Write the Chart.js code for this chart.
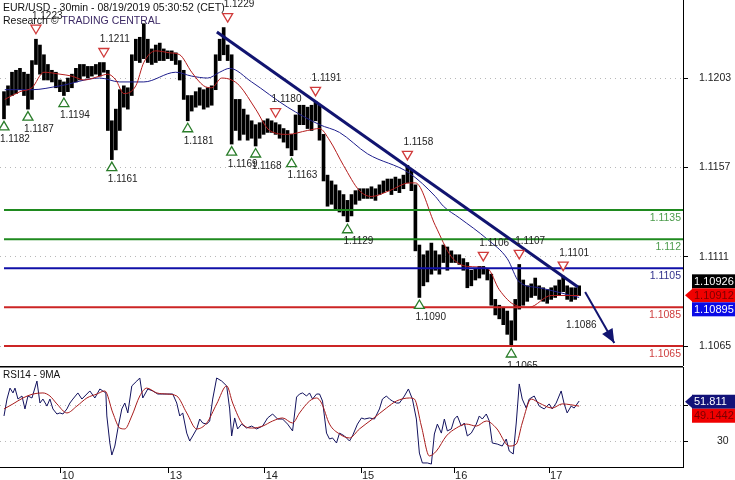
<!DOCTYPE html>
<html>
<head>
<meta charset="utf-8">
<script src="https://cdn.jsdelivr.net/npm/chart.js@4"></script>
<style>
    html, body { margin: 0; padding: 0; background: #fff; }
    #wrap { position: relative; width: 735px; height: 480px; overflow: hidden; }
    #priceChart { position: absolute; left: 0; top: 0; }
    #rsiChart { position: absolute; left: 0; top: 366px; }
</style>
</head>
<body>
<div id="wrap">
    <canvas id="priceChart" width="735" height="366"></canvas>
    <canvas id="rsiChart" width="735" height="114"></canvas>
</div>
<script type="text/javascript">
    // hourly bars, bar k sits at x index k+1 (axis runs 0..171)
    var highs = [1.1196, 1.1199, 1.1206, 1.1207, 1.1208, 1.1206, 1.1205, 1.1212, 1.1223, 1.1220,
        1.1215, 1.1210, 1.1207, 1.1206, 1.1202, 1.1201, 1.1203, 1.1205, 1.1208, 1.1210,
        1.1210, 1.1209, 1.1209, 1.1210, 1.1211, 1.1211, 1.1207, 1.1181, 1.1187, 1.1197,
        1.1199, 1.1198, 1.1215, 1.1223, 1.1224, 1.1231, 1.1223, 1.1218, 1.1220, 1.1221,
        1.1218, 1.1217, 1.1217, 1.1216, 1.1212, 1.1207, 1.1194, 1.1194, 1.1196, 1.1198,
        1.1197, 1.1198, 1.1199, 1.1215, 1.1223, 1.1229, 1.1220, 1.1215, 1.1192, 1.1192,
        1.1187, 1.1184, 1.1181, 1.1179, 1.1180, 1.1181, 1.1182, 1.1181, 1.1180, 1.1179,
        1.1177, 1.1176, 1.1174, 1.1184, 1.1189, 1.1189, 1.1188, 1.1189, 1.1191, 1.1189,
        1.1174, 1.1153, 1.1150, 1.1148, 1.1145, 1.1143, 1.1140, 1.1143, 1.1145, 1.1146,
        1.1146, 1.1146, 1.1147, 1.1146, 1.1148, 1.1150, 1.1151, 1.1151, 1.1152, 1.1151,
        1.1153, 1.1158, 1.1156, 1.1148, 1.1117, 1.1112, 1.1114, 1.1118, 1.1114, 1.1112,
        1.1117, 1.1116, 1.1114, 1.1112, 1.1112, 1.1110, 1.1108, 1.1104, 1.1105, 1.1106,
        1.1106, 1.1105, 1.1102, 1.1089, 1.1086, 1.1085, 1.1083, 1.1078, 1.1089, 1.1107,
        1.1099, 1.1096, 1.1097, 1.1100, 1.1096, 1.1095, 1.1094, 1.1095, 1.1096, 1.1099,
        1.1101, 1.1096, 1.1095, 1.1095, 1.1096];
    var lows = [1.1182, 1.1189, 1.1194, 1.1195, 1.1197, 1.1194, 1.1187, 1.1192, 1.1210, 1.1205,
        1.1202, 1.1202, 1.1201, 1.1198, 1.1196, 1.1194, 1.1196, 1.1198, 1.1201, 1.1202,
        1.1204, 1.1203, 1.1204, 1.1205, 1.1204, 1.1206, 1.1176, 1.1161, 1.1166, 1.1176,
        1.1188, 1.1187, 1.1194, 1.1212, 1.1211, 1.1213, 1.1211, 1.1210, 1.1211, 1.1212,
        1.1212, 1.1213, 1.1212, 1.1210, 1.1202, 1.1192, 1.1181, 1.1186, 1.1188, 1.1189,
        1.1187, 1.1188, 1.1189, 1.1197, 1.1212, 1.1215, 1.1212, 1.1169, 1.1176, 1.1171,
        1.1174, 1.1171, 1.1172, 1.1168, 1.1172, 1.1174, 1.1175, 1.1175, 1.1174, 1.1172,
        1.1170, 1.1167, 1.1163, 1.1166, 1.1179, 1.1179, 1.1177, 1.1176, 1.1181, 1.1171,
        1.1150, 1.1137, 1.1138, 1.1135, 1.1134, 1.1132, 1.1129, 1.1132, 1.1138, 1.1140,
        1.1141, 1.1141, 1.1141, 1.1140, 1.1143, 1.1144, 1.1145, 1.1143, 1.1145, 1.1144,
        1.1146, 1.1149, 1.1145, 1.1114, 1.1090, 1.1096, 1.1098, 1.1102, 1.1104, 1.1102,
        1.1108, 1.1104, 1.1108, 1.1108, 1.1107, 1.1104, 1.1095, 1.1096, 1.1099, 1.1100,
        1.1102, 1.1099, 1.1086, 1.1081, 1.1079, 1.1076, 1.1071, 1.1065, 1.1068, 1.1084,
        1.1086, 1.1088, 1.1090, 1.1091, 1.1089, 1.1088, 1.1087, 1.1089, 1.1090, 1.1091,
        1.1093, 1.1089, 1.1088, 1.1089, 1.1091];

    // moving averages (x = bar index)
    var fastMaX = [1.2, 5, 8, 11, 15, 18, 21, 25, 27, 29, 31, 34, 36, 39, 42.5, 45, 48, 51, 53, 55.5,
        58, 60, 64, 67.5, 72, 77, 80, 82.5, 86, 90, 93, 97.5, 102.5, 104, 109, 113, 117, 122, 125,
        129, 132.5, 138, 145];
    var fastMaY = [1.1192, 1.1196, 1.1198, 1.1206, 1.1205, 1.1204, 1.1202, 1.1204, 1.1205, 1.1202,
        1.1195, 1.1199, 1.1211, 1.1217, 1.1216, 1.1215, 1.1206, 1.1199, 1.1198, 1.1203,
        1.1202, 1.1199, 1.1187, 1.1176, 1.1174, 1.1176, 1.1177, 1.1171, 1.1158, 1.1145,
        1.1142, 1.1145, 1.1149, 1.1149, 1.1127, 1.1111, 1.1106, 1.1105, 1.1094, 1.1086,
        1.1085, 1.1091, 1.1091];
    var slowMaX = [1.2, 8, 15, 25, 30, 36, 44, 48, 52, 55, 57.5, 63, 72, 80, 85, 92, 102.5, 109,
        111, 115, 122, 127, 130, 135, 145];
    var slowMaY = [1.1197, 1.1197, 1.1199, 1.1203, 1.1201, 1.1201, 1.1206, 1.1204, 1.1203, 1.1206,
        1.1208, 1.1201, 1.1188, 1.1179, 1.1175, 1.1164, 1.1154, 1.1142, 1.1137, 1.1131,
        1.1120, 1.1110, 1.1098, 1.1095, 1.1090];

    // support / resistance levels
    var srLevels = [1.1135, 1.112, 1.1105, 1.1085, 1.1065];
    var srLabels = ['1.1135', '1.112', '1.1105', '1.1085', '1.1065'];

    // trend line and projection arrow (bar index, price)
    var trendX = [54.3, 144.7];
    var trendY = [1.12267, 1.10954];
    var arrowX = [146.5, 153.8];
    var arrowY = [1.10928, 1.10665];

    // swing points: L = low, H = high, T = target text only
    var pivotIdx = [1, 7, 16, 28, 47, 58, 64, 73, 87, 105, 128,
        9, 26, 57, 69, 79, 102, 121, 130, 141, 142.7];
    var pivotPrice = [1.1182, 1.1187, 1.1194, 1.1161, 1.1181, 1.1169, 1.1168, 1.1163, 1.1129, 1.1090, 1.1065,
        1.1223, 1.1211, 1.1229, 1.1180, 1.1191, 1.1158, 1.1106, 1.1107, 1.1101, 1.1086];
    var pivotKind = ['L', 'L', 'L', 'L', 'L', 'L', 'L', 'L', 'L', 'L', 'L',
        'H', 'H', 'H', 'H', 'H', 'H', 'H', 'H', 'H', 'T'];

    var priceTicks = [1.1065, 1.1111, 1.1157, 1.1203];
    var lastPrices = [1.10926, 1.10912, 1.10895];   // close, fast MA, slow MA

    // RSI panel
    var rsiX = [1, 1.75, 2.5, 3.25, 3.75, 4.5, 5.5, 6.25, 7, 8, 9.25, 10, 10.75, 11.75, 12.5, 13.25,
        14.25, 15, 15.75, 16.75, 17.5, 18.25, 19.5, 20.5, 21.25, 22.5, 23.75, 25, 25.75, 26.5,
        26.75, 27.5, 28, 28.75, 29.5, 30.5, 31.25, 32, 33, 34.25, 35, 35.75, 37, 38.25, 39.5,
        40.75, 42, 43.25, 44.25, 45, 45.75, 46.75, 47.5, 48.25, 49.25, 50, 50.75, 51.75, 52.5,
        53.25, 54.25, 55.5, 56.75, 57.5, 58, 58.75, 59.5, 60.5, 61.75, 63, 64.25, 65.75, 67,
        68.25, 69.5, 70.75, 72, 73.25, 74.25, 75, 75.75, 76.75, 77.5, 78.25, 79.25, 80, 80.75,
        81.75, 82.5, 83.25, 84.25, 85, 86.25, 87.5, 88.25, 89.5, 90.5, 91.25, 92.5, 93.75, 95,
        95.75, 96.75, 97.5, 98.25, 99.25, 100, 101.25, 102.25, 103.25, 104.25, 105, 105.75, 107,
        108, 108.75, 109.5, 110.5, 111.25, 112, 113, 113.75, 114.5, 115.5, 116.25, 117, 118,
        119.25, 120, 120.75, 121.75, 122.5, 123.25, 124.5, 125.75, 126.75, 127.5, 128.5, 129.25,
        130, 130.75, 131.75, 132.5, 133.75, 135, 136.25, 137.5, 138.25, 139.25, 140.5, 141.25,
        142, 143, 143.75, 145];
    var rsiY = [43.9, 53.3, 59.4, 56.7, 59.4, 53.3, 55.0, 47.8, 55.0, 53.9, 63.3, 51.1, 53.3, 49.4,
        53.3, 47.8, 45.0, 45.6, 45.0, 47.8, 51.1, 53.3, 56.7, 53.3, 55.0, 57.8, 53.9, 58.9, 57.8,
        56.7, 43.9, 28.9, 22.2, 27.2, 36.7, 47.8, 51.1, 45.6, 60.6, 63.3, 65.0, 53.9, 58.9, 57.8,
        56.1, 56.1, 56.1, 56.1, 51.1, 43.9, 45.6, 34.4, 30.0, 32.8, 36.7, 42.2, 40.0, 39.4, 41.1,
        53.3, 65.0, 63.3, 60.6, 47.8, 32.8, 42.8, 36.7, 39.4, 37.2, 38.3, 36.7, 38.3, 42.8, 45.0,
        42.2, 42.2, 39.4, 35.6, 54.4, 56.1, 56.7, 55.0, 56.7, 53.3, 56.1, 56.1, 52.2, 34.4, 31.1,
        31.7, 28.9, 34.4, 32.8, 30.0, 32.8, 39.4, 42.8, 42.2, 42.8, 42.2, 47.8, 53.3, 55.0, 53.3,
        52.2, 51.1, 51.1, 55.0, 58.9, 53.3, 42.2, 23.3, 17.8, 17.8, 17.2, 33.9, 39.4, 34.4, 42.2,
        35.6, 36.7, 42.2, 43.9, 38.3, 40.0, 32.8, 34.4, 39.4, 43.9, 42.2, 45.0, 41.1, 28.9, 28.3,
        27.2, 31.1, 24.4, 22.8, 40.0, 61.7, 53.3, 48.3, 53.3, 55.0, 49.4, 47.8, 50.6, 47.8, 51.1,
        57.8, 50.6, 45.6, 49.4, 48.3, 52.2];
    var rsiMaX = [1, 3.25, 5.75, 8.25, 10.75, 12.5, 14.25, 16.75, 19.25, 21.75, 24.25, 26.25, 28.25,
        30, 31.25, 33, 35, 36.75, 39.25, 41.75, 44.25, 46.75, 49.25, 51.75, 54.25, 56.75, 58.25,
        60.75, 63.25, 65.75, 68.25, 70.75, 73.25, 75, 77.5, 79.25, 80.5, 82.5, 85, 87.5, 90, 93.25,
        96.75, 99.25, 102.5, 103.75, 105.5, 107.5, 109.25, 111.75, 114.25, 116.75, 119.25, 121.75,
        124.25, 127.5, 129.25, 130.75, 133, 135, 138.25, 140.75, 145];
    var rsiMaY = [47.8, 50.6, 53.9, 56.1, 56.7, 55.0, 50.6, 45.6, 49.4, 53.9, 56.1, 57.8, 45.6, 37.2,
        36.7, 43.9, 55.0, 59.4, 56.7, 56.1, 55.0, 45.6, 36.7, 40.0, 50.6, 60.6, 51.1, 39.4, 37.2,
        38.3, 41.1, 42.8, 40.0, 45.6, 52.2, 53.9, 51.1, 39.4, 33.9, 31.7, 36.7, 42.2, 48.3, 52.2,
        53.9, 53.3, 38.3, 21.7, 24.4, 32.8, 37.2, 39.4, 38.3, 41.1, 37.2, 27.2, 28.3, 40.0, 53.3,
        51.1, 48.3, 50.6, 49.4];
    var rsiTicks = [30, 50];
    var lastRsi = [51.811, 49.1442];   // RSI, its 9MA

    var dayTickIdx = [15.27, 42.3, 66.3, 90.4, 113.7, 137.5];
    var dayLabels = ['10', '13', '14', '15', '16', '17'];

    var FONT = '"Liberation Sans", Arial, sans-serif';
    var trendColor = '#111470';
    var srColors = ['#1f8a1f', '#1f8a1f', '#1010a8', '#cc2525', '#cc2525'];
    var srTextColors = ['#4b9b4b', '#4b9b4b', '#32328c', '#cf4040', '#cf4040'];

    function pts(xs, ys) {
        return xs.map(function (x, k) { return { x: x, y: ys[k] }; });
    }

    function drawTri(ctx, x, y, up, color) {
        ctx.beginPath();
        if (up) {
            ctx.moveTo(x, y - 4.5); ctx.lineTo(x + 5, y + 4); ctx.lineTo(x - 5, y + 4);
        } else {
            ctx.moveTo(x, y + 4.5); ctx.lineTo(x + 5, y - 4); ctx.lineTo(x - 5, y - 4);
        }
        ctx.closePath();
        ctx.fillStyle = '#fff';
        ctx.fill();
        ctx.lineWidth = 1.3;
        ctx.strokeStyle = color;
        ctx.stroke();
    }

    // right-hand value tags, stacked so they do not overlap
    function drawTags(chart, values, bg, fg, arrowAt, centred) {
        var ctx = chart.ctx, ys = chart.scales.y, area = chart.chartArea;
        var h = 14, x0 = area.right + 9;
        var py = values.map(function (v) { return ys.getPixelForValue(v); });
        var start = py[0];
        if (centred) {
            var mean = py.reduce(function (a, b) { return a + b; }, 0) / py.length;
            start = mean - (py.length - 1) * h / 2;
        }
        ctx.save();
        ctx.font = '11px ' + FONT;
        ctx.textBaseline = 'middle';
        ctx.textAlign = 'left';
        values.forEach(function (v, k) {
            var cy = start + k * h;
            ctx.fillStyle = bg[k];
            ctx.fillRect(x0, cy - h / 2, chart.width - x0, h);
            if (k === arrowAt) {
                ctx.beginPath();
                ctx.moveTo(area.right + 2, cy);
                ctx.lineTo(x0 + 1, cy - h / 2);
                ctx.lineTo(x0 + 1, cy + h / 2);
                ctx.closePath();
                ctx.fill();
            }
            ctx.fillStyle = fg[k];
            ctx.fillText(String(v), x0 + 2, cy + 0.5);
        });
        ctx.restore();
    }

    var priceDecor = {
        id: 'priceDecor',
        afterDatasetsDraw: function (chart) {
            var ctx = chart.ctx, xs = chart.scales.x, ys = chart.scales.y, area = chart.chartArea;
            ctx.save();

            // level labels
            ctx.font = '10.5px ' + FONT;
            ctx.textAlign = 'right';
            ctx.textBaseline = 'middle';
            srLevels.forEach(function (lvl, k) {
                ctx.fillStyle = srTextColors[k];
                ctx.fillText(srLabels[k], area.right - 2, ys.getPixelForValue(lvl) + 8);
            });

            // arrow head on the projection
            var ai = chart.data.datasets.findIndex(function (d) { return d.label === 'arrow'; });
            var m = chart.getDatasetMeta(ai).data;
            var p0 = m[0], p1 = m[1];
            var a = Math.atan2(p1.y - p0.y, p1.x - p0.x);
            var L = 14, W = 6;
            ctx.fillStyle = trendColor;
            ctx.beginPath();
            ctx.moveTo(p1.x, p1.y);
            ctx.lineTo(p1.x - L * Math.cos(a) + W * Math.sin(a), p1.y - L * Math.sin(a) - W * Math.cos(a));
            ctx.lineTo(p1.x - L * Math.cos(a) - W * Math.sin(a), p1.y - L * Math.sin(a) + W * Math.cos(a));
            ctx.closePath();
            ctx.fill();

            // swing highs / lows
            ctx.font = '10px ' + FONT;
            ctx.textAlign = 'left';
            pivotIdx.forEach(function (ix, k) {
                var px = xs.getPixelForValue(ix), py = ys.getPixelForValue(pivotPrice[k]);
                var txt = pivotPrice[k].toFixed(4);
                if (pivotKind[k] === 'L') {
                    drawTri(ctx, px, py + 7, true, '#2a7d2a');
                    ctx.fillStyle = '#222';
                    ctx.fillText(txt, px - 4, py + 20);
                } else if (pivotKind[k] === 'H') {
                    drawTri(ctx, px, py - 10, false, '#d03a3a');
                    ctx.fillStyle = '#222';
                    ctx.fillText(txt, px - 4, py - 23);
                } else {
                    ctx.fillStyle = '#222';
                    ctx.fillText(txt, px - 4, py + 20);
                }
            });

            // header
            ctx.font = '10.5px ' + FONT;
            ctx.textBaseline = 'alphabetic';
            ctx.fillStyle = '#111';
            ctx.fillText('EUR/USD - 30min - 08/19/2019 05:30:52 (CET)', 3, 11);
            var pre = 'Research \u00a9 ';
            ctx.fillText(pre, 3, 24);
            ctx.fillStyle = '#3d2a66';
            ctx.fillText('TRADING CENTRAL', 3 + ctx.measureText(pre).width, 24);
            ctx.restore();
        },
        afterDraw: function (chart) {
            drawTags(chart, lastPrices, ['#000', '#f00000', '#0a0ae6'], ['#fff', '#7a0000', '#fff'], 1, true);
        }
    };

    var rsiDecor = {
        id: 'rsiDecor',
        afterDraw: function (chart) {
            var ctx = chart.ctx, area = chart.chartArea;
            ctx.save();
            ctx.fillStyle = '#000';
            ctx.fillRect(0, 0, area.right, 1.5);
            ctx.font = '10px ' + FONT;
            ctx.fillStyle = '#111';
            ctx.textBaseline = 'alphabetic';
            ctx.fillText('RSI14 - 9MA', 3, 12);
            ctx.restore();
            drawTags(chart, lastRsi, ['#121278', '#f00000'], ['#fff', '#7a0000'], 0, false);
        }
    };

    var lineBase = { type: 'line', pointRadius: 0, borderWidth: 1, fill: false };

    var priceSets = [{
        type: 'bar',
        label: 'bars',
        data: highs.map(function (h, k) { return { x: k + 1, y: [lows[k], h] }; }),
        backgroundColor: '#000',
        borderWidth: 0,
        barThickness: 3,
        order: 6
    }, Object.assign({}, lineBase, {
        label: 'fast', data: pts(fastMaX, fastMaY), borderColor: '#b51c1c',
        cubicInterpolationMode: 'monotone', order: 5
    }), Object.assign({}, lineBase, {
        label: 'slow', data: pts(slowMaX, slowMaY), borderColor: '#1e1e8c',
        cubicInterpolationMode: 'monotone', order: 5
    })];
    srLevels.forEach(function (lvl, k) {
        priceSets.push(Object.assign({}, lineBase, {
            label: 'sr' + k, data: [{ x: 1, y: lvl }, { x: 171, y: lvl }],
            borderColor: srColors[k], borderWidth: 2, order: 4
        }));
    });
    priceSets.push(Object.assign({}, lineBase, {
        label: 'trend', data: pts(trendX, trendY), borderColor: trendColor, borderWidth: 3, order: 3
    }));
    priceSets.push(Object.assign({}, lineBase, {
        label: 'arrow', data: pts(arrowX, arrowY), borderColor: trendColor, borderWidth: 2, order: 2
    }));

    new Chart(document.getElementById('priceChart'), {
        type: 'bar',
        data: { datasets: priceSets },
        options: {
            responsive: false,
            animation: false,
            events: [],
            layout: { padding: 0 },
            plugins: { legend: { display: false }, tooltip: { enabled: false } },
            scales: {
                x: { type: 'linear', min: 0, max: 171, offset: false, display: false, grid: { offset: false } },
                y: {
                    type: 'linear', position: 'right', min: 1.10547, max: 1.12432,
                    afterBuildTicks: function (s) { s.ticks = priceTicks.map(function (v) { return { value: v }; }); },
                    afterFit: function (s) { s.width = 52; s.paddingTop = 0; s.paddingBottom = 0; },
                    ticks: {
                        callback: function (v) { return v.toFixed(4); },
                        font: { size: 10.5, family: FONT }, color: '#222', padding: 11
                    },
                    grid: { color: '#b8b8b8', lineWidth: 1, tickLength: 5, tickColor: '#000' },
                    border: { display: true, color: '#000', width: 1, dash: [1, 4] }
                }
            }
        },
        plugins: [priceDecor]
    });

    new Chart(document.getElementById('rsiChart'), {
        type: 'line',
        data: {
            datasets: [Object.assign({}, lineBase, {
                label: 'rsi', data: pts(rsiX, rsiY), borderColor: '#12125e', order: 2
            }), Object.assign({}, lineBase, {
                label: 'rsiMa', data: pts(rsiMaX, rsiMaY), borderColor: '#a81c1c',
                cubicInterpolationMode: 'monotone', order: 1
            })]
        },
        options: {
            responsive: false,
            animation: false,
            events: [],
            layout: { padding: { top: 1 } },
            plugins: { legend: { display: false }, tooltip: { enabled: false } },
            scales: {
                x: {
                    type: 'linear', position: 'bottom', min: 0, max: 171,
                    afterBuildTicks: function (s) { s.ticks = dayTickIdx.map(function (v) { return { value: v }; }); },
                    afterFit: function (s) { s.height = 13; s.paddingLeft = 0; s.paddingRight = 0; },
                    ticks: {
                        callback: function (v, i) { return dayLabels[i]; },
                        font: { size: 11, family: FONT }, color: '#222',
                        padding: -4, labelOffset: 7, maxRotation: 0, autoSkip: false
                    },
                    grid: { drawOnChartArea: false, drawTicks: true, tickLength: 6, tickColor: '#000' },
                    border: { display: true, color: '#000', width: 1 }
                },
                y: {
                    type: 'linear', position: 'right', min: 15.56, max: 71.11,
                    afterBuildTicks: function (s) { s.ticks = rsiTicks.map(function (v) { return { value: v }; }); },
                    afterFit: function (s) { s.width = 52; s.paddingTop = 0; s.paddingBottom = 0; },
                    ticks: { font: { size: 10.5, family: FONT }, color: '#222', padding: 29 },
                    grid: { color: '#b8b8b8', lineWidth: 1, tickLength: 5, tickColor: '#000' },
                    border: { display: true, color: '#000', width: 1, dash: [1, 4] }
                }
            }
        },
        plugins: [rsiDecor]
    });
</script>
</body>
</html>
